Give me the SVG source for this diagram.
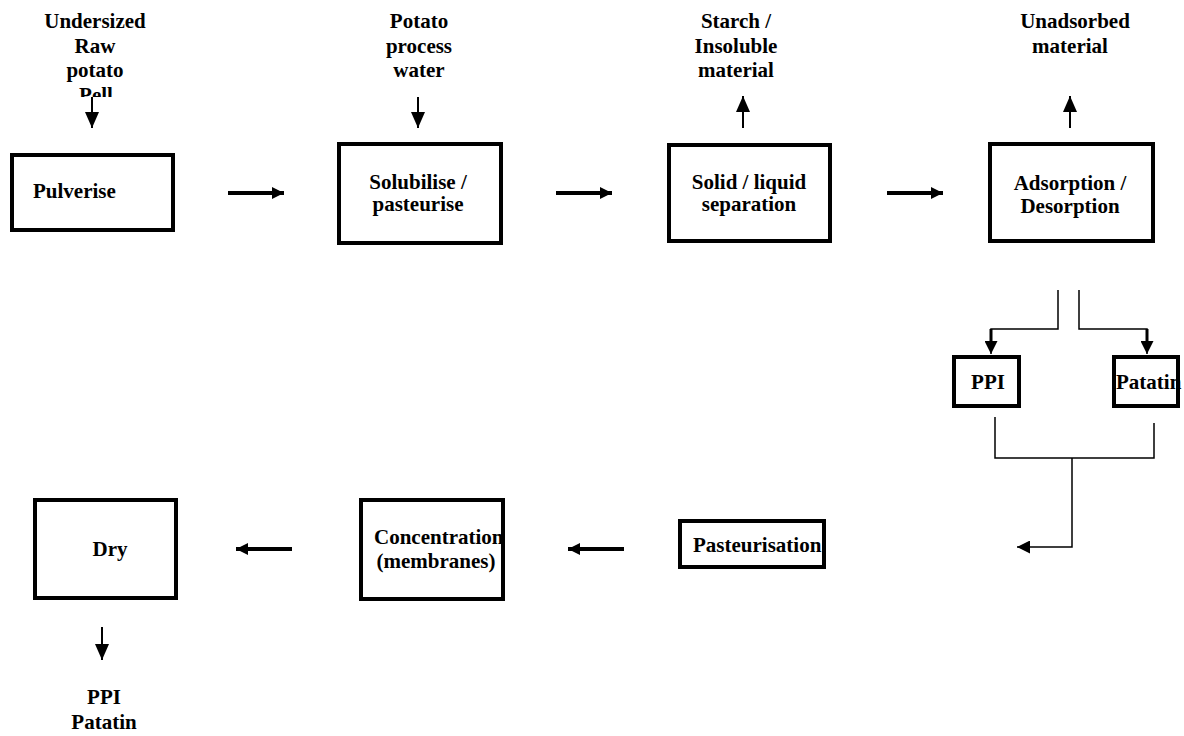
<svg xmlns="http://www.w3.org/2000/svg" width="1184" height="736" viewBox="0 0 1184 736">
<style>
text{font-family:"Liberation Serif","Times New Roman",serif;font-weight:bold;font-size:21px;fill:#000}
.c{text-anchor:middle}
.box{fill:none;stroke:#000;stroke-width:4}
.ln{fill:none;stroke:#000;stroke-width:1.5}
.av{fill:none;stroke:#000;stroke-width:2}
.ah{fill:none;stroke:#000;stroke-width:4}
</style>
<defs>
<marker id="mv" markerUnits="userSpaceOnUse" markerWidth="16" markerHeight="14" refX="16" refY="7" orient="auto"><path d="M0,0L16,7L0,14z" fill="#000"/></marker>
<marker id="mb" markerUnits="userSpaceOnUse" markerWidth="13" markerHeight="13" refX="13" refY="6.5" orient="auto"><path d="M0,0L13,6.5L0,13z" fill="#000"/></marker>
<marker id="mh" markerUnits="userSpaceOnUse" markerWidth="12" markerHeight="12" refX="12" refY="6" orient="auto"><path d="M0,0L12,6L0,12z" fill="#000"/></marker>
<clipPath id="cl"><rect x="0" y="0" width="200" height="97"/></clipPath>
</defs>
<g id="labels">
<g id="in-raw">
<text class="c" x="95" y="28">Undersized</text>
<text class="c" x="95" y="52.5">Raw</text>
<text class="c" x="95" y="77">potato</text>
<text class="c" x="96" y="101.5" clip-path="url(#cl)">Pell</text>
</g>
<g id="in-water">
<text class="c" x="419" y="28">Potato</text>
<text class="c" x="419" y="52.5">process</text>
<text class="c" x="419" y="77">water</text>
</g>
<g id="out-starch">
<text class="c" x="736" y="28">Starch /</text>
<text class="c" x="736" y="52.5">Insoluble</text>
<text class="c" x="736" y="77">material</text>
</g>
<g id="out-unadsorbed">
<text class="c" x="1075" y="28">Unadsorbed</text>
<text class="c" x="1070" y="52.5">material</text>
</g>
<g id="out-product">
<text class="c" x="104" y="704">PPI</text>
<text class="c" x="104" y="729">Patatin</text>
</g>
</g>
<g id="pulverise"><rect class="box" x="12" y="155" width="161" height="75"/><text x="33" y="198">Pulverise</text></g>
<g id="solubilise"><rect class="box" x="339" y="144" width="162" height="99"/><text class="c" x="418" y="189">Solubilise /</text><text class="c" x="418" y="211">pasteurise</text></g>
<g id="separation"><rect class="box" x="669" y="145" width="161" height="96"/><text class="c" x="749" y="189">Solid / liquid</text><text class="c" x="749" y="211">separation</text></g>
<g id="adsorption"><rect class="box" x="990" y="144" width="163" height="97"/><text class="c" x="1070" y="190">Adsorption /</text><text class="c" x="1070" y="213">Desorption</text></g>
<g id="ppi"><rect class="box" x="954" y="357" width="65" height="49"/><text class="c" x="988" y="389">PPI</text></g>
<g id="patatin"><rect class="box" x="1114" y="357" width="64" height="49"/><text x="1116" y="389">Patatin</text></g>
<g id="pasteurisation"><rect class="box" x="680" y="521" width="144" height="46"/><text x="693" y="552">Pasteurisation</text></g>
<g id="concentration"><rect class="box" x="361" y="500" width="142" height="99"/><text x="374" y="544">Concentration</text><text class="c" x="436" y="568">(membranes)</text></g>
<g id="dry"><rect class="box" x="35" y="500" width="141" height="98"/><text class="c" x="110" y="556">Dry</text></g>
<g id="connectors">
<line class="av" x1="92" y1="97" x2="92" y2="128" marker-end="url(#mv)"/>
<line class="av" x1="418" y1="97" x2="418" y2="128" marker-end="url(#mv)"/>
<line class="av" x1="743" y1="128" x2="743" y2="96" marker-end="url(#mv)"/>
<line class="av" x1="1070" y1="128" x2="1070" y2="96" marker-end="url(#mv)"/>
<line class="ah" x1="228" y1="193" x2="284" y2="193" marker-end="url(#mh)"/>
<line class="ah" x1="556" y1="193" x2="612" y2="193" marker-end="url(#mh)"/>
<line class="ah" x1="887" y1="193" x2="943" y2="193" marker-end="url(#mh)"/>
<polyline class="ln" points="1058,290 1058,329 991,329 991,354" marker-end="url(#mb)"/>
<polyline class="ln" points="1079,290 1079,329 1147,329 1147,354" marker-end="url(#mb)"/>
<line stroke="#000" stroke-width="3" x1="991" y1="329" x2="991" y2="345"/>
<line stroke="#000" stroke-width="3" x1="1147" y1="329" x2="1147" y2="345"/>
<polyline class="ln" points="995,417 995,458 1154,458 1154,423"/>
<polyline class="ln" points="1072,458 1072,547 1017,547" marker-end="url(#mb)"/>
<line class="ah" x1="624" y1="549" x2="568" y2="549" marker-end="url(#mh)"/>
<line class="ah" x1="292" y1="549" x2="236" y2="549" marker-end="url(#mh)"/>
<line class="av" x1="102" y1="627" x2="102" y2="660" marker-end="url(#mv)"/>
</g>
</svg>
